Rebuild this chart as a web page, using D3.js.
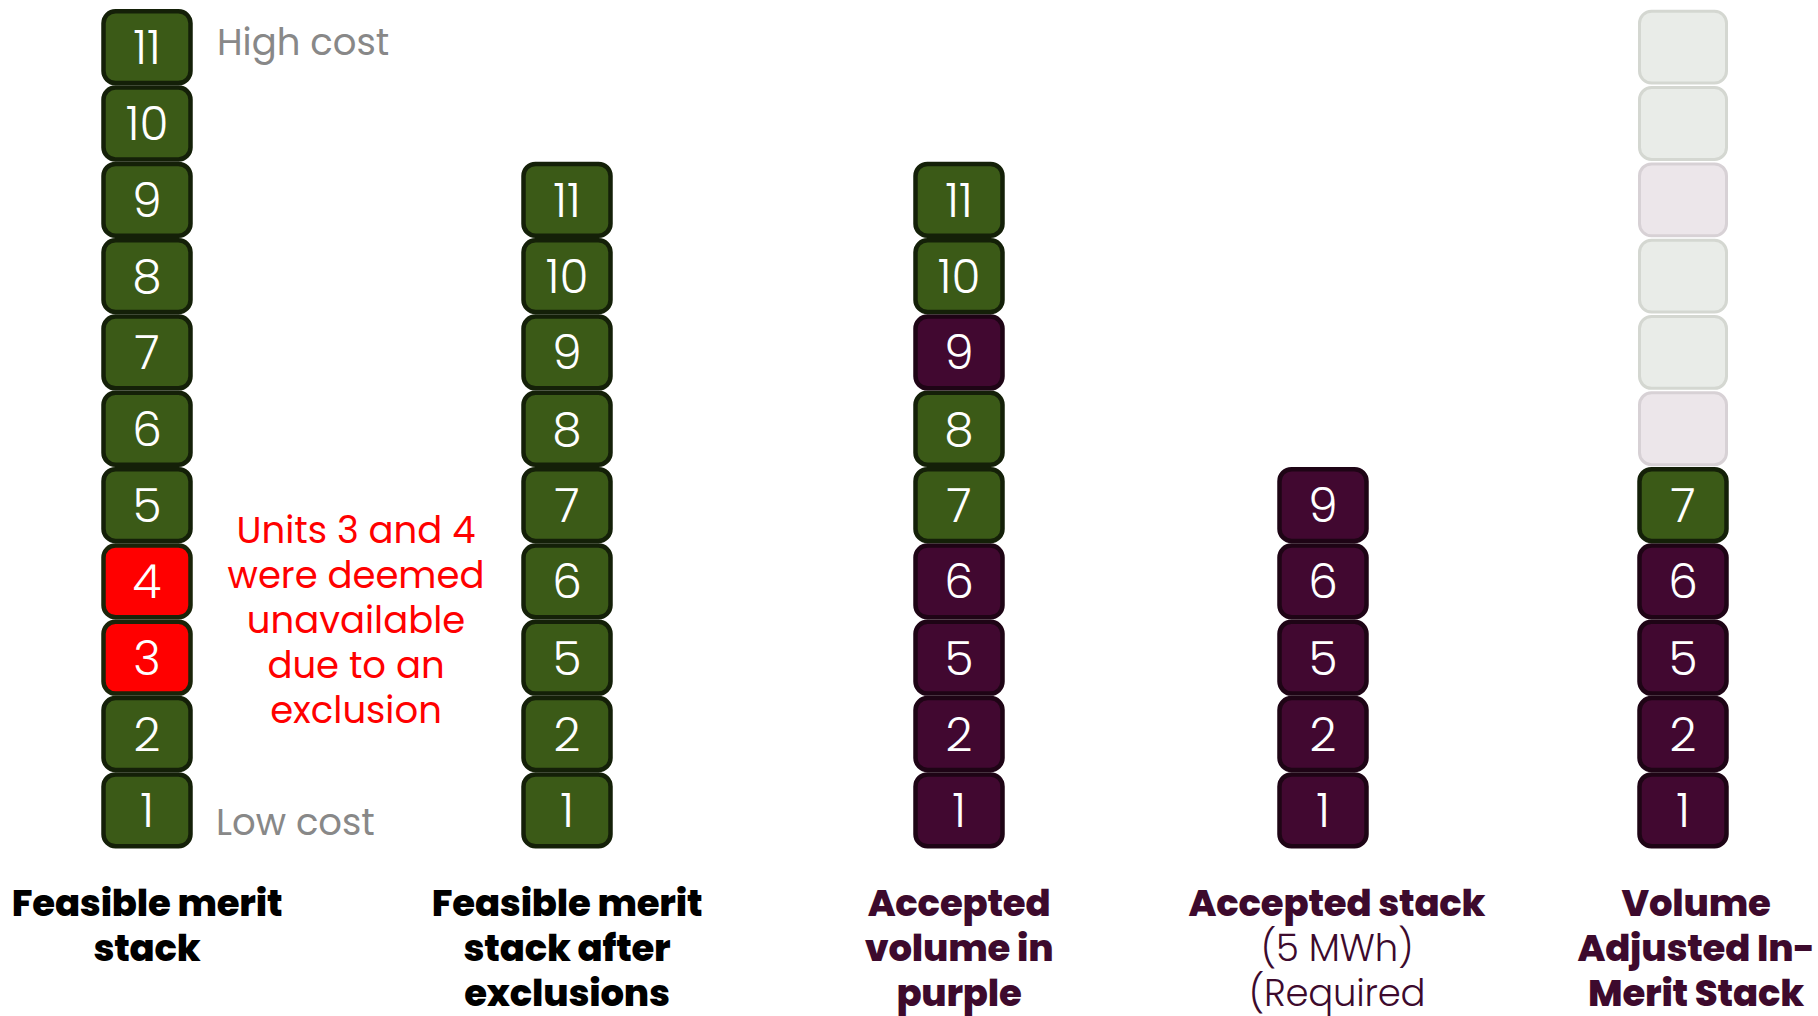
<!DOCTYPE html>
<html>
<head>
<meta charset="utf-8">
<script src="https://cdn.jsdelivr.net/npm/d3@7"></script>
<style>
  html, body { margin: 0; padding: 0; background: #fff; }
  svg { display: block; font-family: Poppins, Inter, "Noto Sans", sans-serif; }
</style>
</head>
<body>
<div id="chart"></div>
<script>
// columns, left to right
var columnIds = ["feasible", "afterExcl", "acceptedVol", "acceptedStack", "adjusted"]
var columnTitles = [
  ["Feasible merit", "stack"],
  ["Feasible merit", "stack after", "exclusions"],
  ["Accepted", "volume in", "purple"],
  ["Accepted stack", "(5 MWh)", "(Required"],
  ["Volume", "Adjusted In-", "Merit Stack"]
]

// units in each stack, bottom to top
var feasibleUnits = [1, 2, 3, 4, 5, 6, 7, 8, 9, 10, 11]
var excludedUnits = [3, 4]
var afterExclUnits = [1, 2, 5, 6, 7, 8, 9, 10, 11]
var acceptedUnits = [1, 2, 5, 6, 9]
var adjustedUnits = [1, 2, 5, 6, 7]
var adjustedAccepted = [1, 2, 5, 6]
// faded boxes above the adjusted stack, bottom to top
var ghostShades = ["purple", "green", "green", "purple", "green", "green"]

var sideLabels = { high: "High cost", low: "Low cost" }
var noteLines = ["Units 3 and 4", "were deemed", "unavailable", "due to an", "exclusion"]

var width = 1818, height = 1016

var svg = d3.select("#chart")
  .append("svg")
    .attr("width", width)
    .attr("height", height)

// layout scales
var x = d3.scaleOrdinal()
  .domain(columnIds)
  .range([147, 567, 959, 1323, 1683])
var y = d3.scaleLinear()
  .domain([0, 11])
  .range([848.5, 9])
var pitch = y(0) - y(1)
var boxW = 87, boxH = pitch - 4.5

var fills = { green: "#3b5a17", purple: "#410830", red: "#ff0000",
              ghostGreen: "#e9ece8", ghostPurple: "#ece6ea" }
var strokes = { green: "#142008", purple: "#1e0415", red: "#1a2409",
                ghostGreen: "#d4d7d1", ghostPurple: "#d7d1d5" }

// build box list
var boxes = []
feasibleUnits.forEach(function(u, i) {
  boxes.push({ col: "feasible", pos: i, label: u, kind: excludedUnits.includes(u) ? "red" : "green" })
})
afterExclUnits.forEach(function(u, i) {
  boxes.push({ col: "afterExcl", pos: i, label: u, kind: "green" })
})
afterExclUnits.forEach(function(u, i) {
  boxes.push({ col: "acceptedVol", pos: i, label: u, kind: acceptedUnits.includes(u) ? "purple" : "green" })
})
acceptedUnits.forEach(function(u, i) {
  boxes.push({ col: "acceptedStack", pos: i, label: u, kind: "purple" })
})
adjustedUnits.forEach(function(u, i) {
  boxes.push({ col: "adjusted", pos: i, label: u, kind: adjustedAccepted.includes(u) ? "purple" : "green" })
})
ghostShades.forEach(function(s, i) {
  boxes.push({ col: "adjusted", pos: adjustedUnits.length + i, label: "", kind: s == "green" ? "ghostGreen" : "ghostPurple" })
})

var g = svg.selectAll("g.box")
  .data(boxes)
  .enter()
  .append("g")
    .attr("class", "box")
    .attr("transform", function(d) { return "translate(" + x(d.col) + "," + (y(d.pos) + y(d.pos + 1)) / 2 + ")" })

g.append("rect")
  .attr("x", -boxW / 2)
  .attr("y", -boxH / 2)
  .attr("width", boxW)
  .attr("height", boxH)
  .attr("rx", 12)
  .attr("fill", function(d) { return fills[d.kind] })
  .attr("stroke", function(d) { return strokes[d.kind] })
  .attr("stroke-width", function(d) { return d.kind.indexOf("ghost") == 0 ? 3 : 4.5 })

g.append("text")
  .attr("text-anchor", "middle")
  .attr("dy", "0.36em")
  .attr("fill", "#fff")
  .style("font-size", "47px")
  .style("font-weight", 300)
  .text(function(d) { return d.label })

// side labels
svg.append("text")
  .attr("x", 217).attr("y", 55)
  .attr("fill", "#888")
  .style("font-size", "37px")
  .text(sideLabels.high)
svg.append("text")
  .attr("x", 216).attr("y", 835)
  .attr("fill", "#888")
  .style("font-size", "37px")
  .text(sideLabels.low)

// exclusion note
svg.append("g")
  .selectAll("text")
  .data(noteLines)
  .enter()
  .append("text")
    .attr("x", 356)
    .attr("y", function(d, i) { return 543 + i * 45 })
    .attr("text-anchor", "middle")
    .attr("fill", "#ff0000")
    .style("font-size", "37px")
    .text(function(d) { return d })

// column titles
var titleX = d3.scaleOrdinal()
  .domain(columnIds)
  .range([147, 567, 959, 1337, 1696])
columnIds.forEach(function(c, ci) {
  svg.append("g")
    .selectAll("text")
    .data(columnTitles[ci])
    .enter()
    .append("text")
      .attr("text-anchor", "middle")
      .attr("x", titleX(c))
      .attr("y", function(d, i) { return 916 + i * 45 })
      .attr("fill", ci < 2 ? "#000" : "#3d0a2d")
      .style("font-size", "37px")
      .style("font-weight", function(d, i) { return (ci == 3 && i > 0) ? 300 : 800 })
      .style("letter-spacing", "-0.2px")
      .text(function(d) { return d })
})
</script>
</body>
</html>
